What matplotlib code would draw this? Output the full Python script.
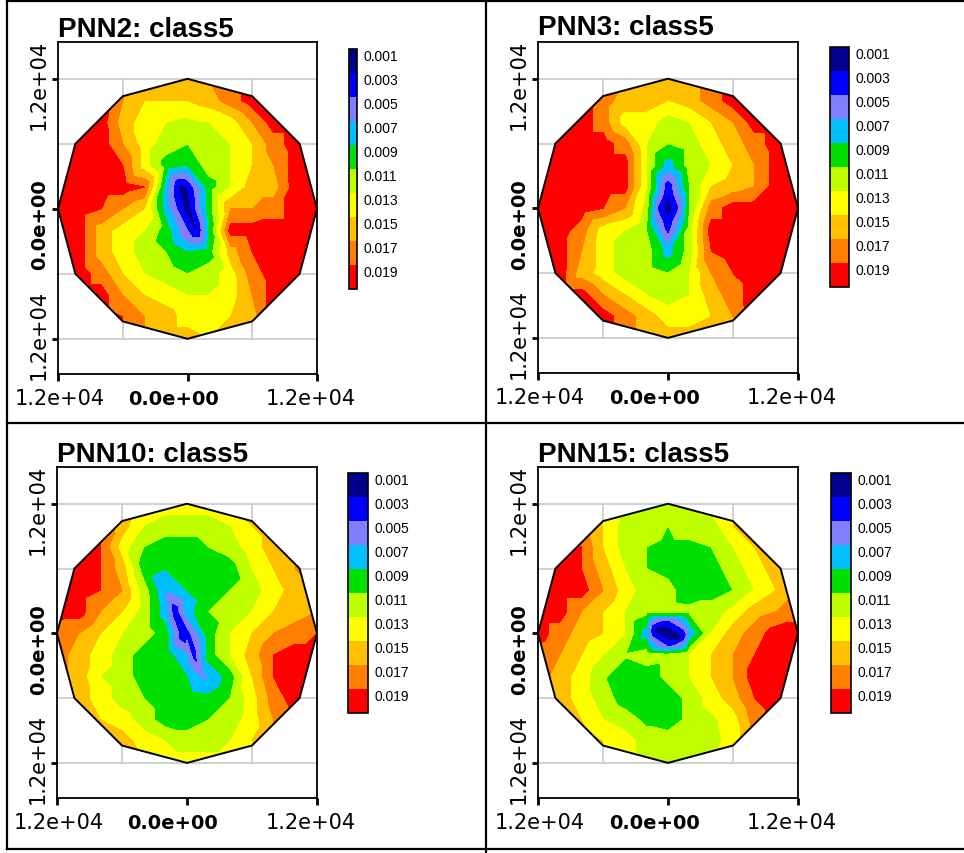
import numpy as np
import matplotlib
matplotlib.use("Agg")
import matplotlib.pyplot as plt
import matplotlib.tri as mtri
from matplotlib.patches import Polygon
from matplotlib.lines import Line2D

# ---------------- data ----------------
grid_x = list(range(-12000, 12001, 2000))          # columns, left -> right
grid_y = list(range(12000, -12001, -2000))         # rows, top -> bottom
value_unit = 1e-3

levels = [0.001, 0.003, 0.005, 0.007, 0.009, 0.011, 0.013, 0.015, 0.017, 0.019, 0.021]
level_labels = ["0.001", "0.003", "0.005", "0.007", "0.009",
                "0.011", "0.013", "0.015", "0.017", "0.019"]
band_colors = ["#00008c", "#0000ff", "#8080ff", "#00c0ff", "#00e000",
               "#c0ff00", "#ffff00", "#ffc000", "#ff8000", "#ff0000"]

titles = ["PNN2: class5", "PNN3: class5", "PNN10: class5", "PNN15: class5"]

pnn2_values = [
    [20, 20, 20, 18, 16, 16, 16, 17, 18, 20, 20, 20, 20],
    [20, 20, 20, 17, 15, 15, 15, 16, 18, 20, 20, 20, 20],
    [20, 20, 20, 16, 14, 13, 12.5, 13, 14, 17, 20, 20, 20],
    [20, 20, 20, 17, 14, 12, 11, 12, 13, 15, 18, 20, 20],
    [20, 20, 20, 19, 14, 10, 9, 12, 13, 15, 17, 20, 20],
    [20, 20, 20, 20, 19, 8, 3, 10, 13, 16, 16, 20, 20],
    [20, 20, 19, 17, 15, 8, 2, 10, 17, 17, 18, 20, 20],
    [20, 20, 16, 14, 13, 10, 5, 9, 20, 20, 20, 20, 20],
    [20, 20, 16, 14, 12, 11, 9, 10, 16, 19, 20, 20, 20],
    [20, 20, 18, 15, 13, 12, 11, 12, 14, 18, 20, 20, 20],
    [20, 20, 20, 17, 15, 14, 13, 13, 14, 17, 20, 20, 20],
    [20, 20, 20, 19, 17, 16, 14, 14, 15, 16, 20, 20, 20],
    [20, 20, 20, 19, 17, 16, 16, 15, 16, 17, 20, 20, 20],
]
pnn2_extra_x = [-700, 800]
pnn2_extra_y = [2100, -1900]
pnn2_extra_v = [2.5, 2.5]

pnn3_values = [
    [20, 20, 20, 20, 17, 16, 16, 16, 18, 20, 20, 20, 20],
    [20, 20, 20, 18, 16, 16, 15, 16, 18, 20, 20, 20, 20],
    [20, 20, 20, 18, 14, 14, 12, 13, 15, 17, 20, 20, 20],
    [20, 20, 20, 20, 18, 13, 11, 12, 14, 16, 18, 20, 20],
    [20, 20, 20, 20, 20, 13, 8, 12, 13, 15, 17, 20, 20],
    [20, 20, 20, 20, 20, 13, 3.5, 11, 15, 16, 17, 20, 20],
    [20, 20, 20, 19, 17, 12, 2, 11, 18, 20, 20, 20, 20],
    [20, 20, 18, 14, 13, 11, 4, 12, 20, 20, 20, 20, 20],
    [20, 20, 17, 14, 12, 12, 8, 12, 19, 20, 20, 20, 20],
    [20, 20, 16, 14, 12, 12, 11, 13, 17, 19, 20, 20, 20],
    [20, 20, 20, 17, 15, 13, 12, 13, 16, 18, 20, 20, 20],
    [20, 20, 20, 20, 18, 16, 14, 14, 15, 17, 20, 20, 20],
    [20, 20, 20, 20, 18, 16, 16, 16, 16, 17, 20, 20, 20],
]
pnn3_extra_x = [-900, 900, 0, 0]
pnn3_extra_y = [0, 0, 1100, -900]
pnn3_extra_v = [4.5, 4.5, 2.8, 2.8]

pnn10_values = [
    [19, 18, 16, 15, 14, 14, 14, 14, 15, 16, 17, 18, 18],
    [20, 19, 19, 16, 13, 12, 12, 12, 13, 15, 16, 17, 18],
    [20, 20, 19, 14, 11, 10, 10, 11, 12, 14, 16, 17, 18],
    [20, 20, 19, 16, 10, 9, 9, 10, 10, 13, 15, 17, 18],
    [20, 20, 19, 17, 12, 7, 9, 10, 11, 12, 14, 16, 17],
    [20, 20, 17, 15, 12, 8, 8, 11, 12, 13, 15, 16, 17],
    [18, 17, 15, 13, 12, 10, 4, 10, 13, 15, 17, 18, 19],
    [18, 16, 14, 12, 10, 10, 7, 10, 13, 16, 19, 20, 20],
    [18, 16, 13, 12, 10, 10, 9, 7, 10, 15, 19, 20, 20],
    [18, 16, 14, 12, 11, 10, 10, 9.5, 11, 14, 18, 20, 20],
    [17, 17, 15, 14, 12, 10, 10, 11, 12, 14, 17, 19, 20],
    [17, 16, 16, 16, 14, 13, 12, 12, 13, 15, 17, 18, 19],
    [18, 17, 16, 16, 15, 14, 14, 14, 14, 15, 17, 18, 19],
]
pnn10_extra_x = [-1100, -250, 640, 1500]
pnn10_extra_y = [2000, 0, -2000, -4000]
pnn10_extra_v = [3.5, 3.0, 4.0, 6.5]

pnn15_values = [
    [19, 18, 16, 14, 13, 12, 12, 13, 14, 15, 16, 17, 18],
    [18, 18, 18, 15, 12, 12, 11, 12, 12, 15, 16, 17, 18],
    [20, 20, 19, 15, 12, 11, 10.5, 10.5, 11, 13, 15, 17, 18],
    [20, 20, 19, 16, 13, 11, 10.5, 10, 10, 12, 14, 16, 17],
    [20, 20, 20, 17, 14, 12, 11.5, 10, 10, 11, 13, 15, 17],
    [20, 20, 17, 15, 13, 11.5, 11.6, 11.5, 12, 13.5, 16, 17, 18],
    [20, 18, 16, 15, 13, 8, 2, 7, 13, 16, 18, 20, 20],
    [18, 17, 15, 13, 11.2, 12, 11.6, 13, 15, 17, 19, 20, 20],
    [18, 16, 14, 11.2, 10, 10, 11.5, 13, 15, 17, 20, 20, 20],
    [18, 16, 14, 12, 10, 10, 10, 11.5, 14, 16, 19, 20, 20],
    [17, 17, 15, 13, 12, 10.5, 10, 11.5, 12.5, 14, 18, 20, 20],
    [16, 16, 16, 15, 14, 12, 12, 12, 12, 14, 17, 19, 20],
    [18, 17, 16, 15, 14, 13, 12, 12, 13, 14, 16, 18, 19],
]
pnn15_extra_x = [-1300, 1300, -300, 300]
pnn15_extra_y = [300, -300, 1000, -1000]
pnn15_extra_v = [2.5, 2.5, 3.5, 3.5]

tick_values = [-12000, 0, 12000]
tick_labels = ["1.2e+04", "0.0e+00", "1.2e+04"]
grid_h = [-12000, -6000, 0, 6000, 12000]
grid_v = [-6000, 0, 6000]
domain_radius = 12000
n_sides = 12
y_lo, y_hi = -15250, 15400

# ---------------- layout (pixels) ----------------
W, H = 964, 854
panels = [
    dict(title=titles[0], vals=pnn2_values, ex=(pnn2_extra_x, pnn2_extra_y, pnn2_extra_v),
         ax=(58, 43, 317, 375), cb=(349, 50, 357, 290), tt=(58, 37)),
    dict(title=titles[1], vals=pnn3_values, ex=(pnn3_extra_x, pnn3_extra_y, pnn3_extra_v),
         ax=(538, 43, 798, 374), cb=(830, 48, 849, 288), tt=(538, 35)),
    dict(title=titles[2], vals=pnn10_values, ex=(pnn10_extra_x, pnn10_extra_y, pnn10_extra_v),
         ax=(57, 468, 317, 799), cb=(348, 474, 368, 714), tt=(57, 462)),
    dict(title=titles[3], vals=pnn15_values, ex=(pnn15_extra_x, pnn15_extra_y, pnn15_extra_v),
         ax=(538, 468, 798, 799), cb=(831, 474, 851, 714), tt=(538, 462)),
]
# label nudges in pixels relative to tick positions
x_label_dx = [2, -14, -6]
y_label_dy = [-5, 15, 5]      # downward pixels, for ticks -12000, 0, 12000


def rect(l, t, r, b):
    return [l / W, 1 - b / H, (r - l) / W, (b - t) / H]


fig = plt.figure(figsize=(W / 100, H / 100), dpi=100)
fig.patch.set_facecolor("white")

ang = np.deg2rad(np.arange(0, 360, 360 / n_sides))
poly_xy = np.column_stack([domain_radius * np.cos(ang), domain_radius * np.sin(ang)])

GX, GY = np.meshgrid(np.array(grid_x, float), np.array(grid_y, float))

for p in panels:
    l, t, r, b = p["ax"]
    ax = fig.add_axes(rect(l, t, r, b))
    ex_x, ex_y, ex_v = p["ex"]
    x = np.concatenate([GX.ravel(), np.array(ex_x, float)])
    y = np.concatenate([GY.ravel(), np.array(ex_y, float)])
    z = np.concatenate([np.array(p["vals"], float).ravel(), np.array(ex_v, float)]) * value_unit
    tri = mtri.Triangulation(x, y)

    ax.hlines(grid_h, -12000, 12000, colors="#c8c8c8", lw=1.2, zorder=0)
    ax.vlines(grid_v, -12000, 12000, colors="#c8c8c8", lw=1.2, zorder=0)

    cs = ax.tricontourf(tri, z, levels=levels, colors=band_colors, zorder=1, antialiased=False)
    clip = Polygon(poly_xy, closed=True, transform=ax.transData, facecolor="none", edgecolor="none")
    ax.add_patch(clip)
    cs.set_clip_path(clip)
    ax.add_patch(Polygon(poly_xy, closed=True, facecolor="none", edgecolor="black", lw=1.4, zorder=3))

    ax.set_xlim(-12000, 12000)
    ax.set_ylim(y_lo, y_hi)
    ax.set_xticks(tick_values)
    ax.set_yticks(tick_values)
    ax.set_xticklabels([])
    ax.set_yticklabels([])
    ax.tick_params(axis="x", direction="out", length=5, width=2)
    ax.tick_params(axis="y", direction="out", length=4, width=2)
    for s in ax.spines.values():
        s.set_linewidth(1.3)

    # tick labels placed as text at measured pixel positions
    for k, lab in enumerate(tick_labels):
        bold = (k == 1)
        fs = 14 if bold else 15
        fw = "bold" if bold else "normal"
        xpix = l + (tick_values[k] + 12000) / 24000 * (r - l) + x_label_dx[k]
        fig.text(xpix / W, 1 - (b + 30) / H, lab, ha="center", va="baseline",
                 fontsize=fs, fontweight=fw, family="DejaVu Sans")
        ypix = t + (y_hi - tick_values[k]) / (y_hi - y_lo) * (b - t) + y_label_dy[k]
        fig.text((l - 13) / W, 1 - ypix / H, lab, rotation=90, rotation_mode="anchor",
                 ha="center", va="baseline", fontsize=fs, fontweight=fw, family="DejaVu Sans")

    fig.text(p["tt"][0] / W, 1 - p["tt"][1] / H, p["title"], ha="left", va="baseline",
             fontsize=20, fontweight="bold",
             family=["Liberation Sans", "DejaVu Sans"])

    cax = fig.add_axes(rect(*p["cb"]))
    cb = fig.colorbar(cs, cax=cax, ticks=levels[:-1], drawedges=True)
    cax.invert_yaxis()
    cb.set_ticklabels(level_labels)
    cb.outline.set_linewidth(1.2)
    cb.outline.set_edgecolor("black")
    cb.dividers.set_color("black")
    cb.dividers.set_linewidth(1.2)
    cax.tick_params(length=0, pad=5, labelsize=10)
    for tl in cax.get_yticklabels():
        tl.set_verticalalignment("top")
        tl.set_family("Liberation Sans")

# panel frame lines (pixel coordinates)
frame_lines = [
    ((7, 964), (1.5, 1.5)),
    ((7, 964), (424, 424)),
    ((7, 964), (850, 850)),
    ((7, 7), (1.5, 850)),
    ((486, 486), (0, 854)),
]
for (xs, ys) in frame_lines:
    fig.add_artist(Line2D([v / W for v in xs], [1 - v / H for v in ys],
                          transform=fig.transFigure, color="black", lw=1.6))

fig.savefig("out.png", dpi=100)
